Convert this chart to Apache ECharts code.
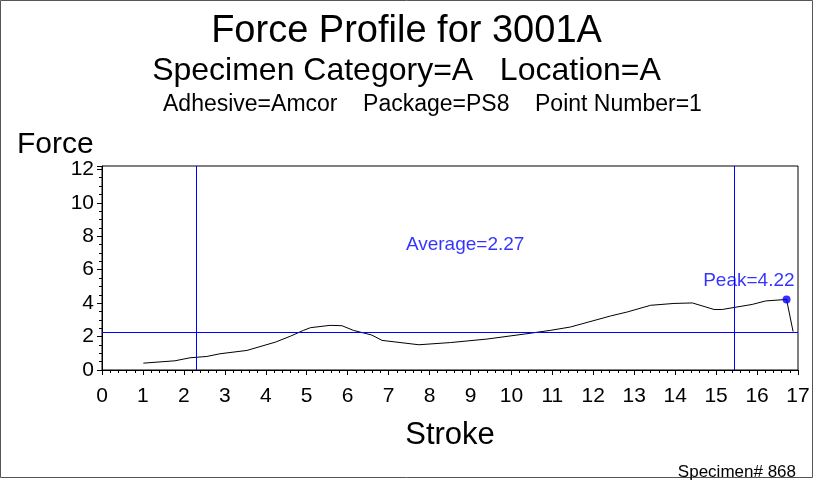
<!DOCTYPE html>
<html>
<head>
<meta charset="utf-8">
<script src="https://cdn.jsdelivr.net/npm/echarts@6/dist/echarts.min.js"></script>
<style>
  html, body { margin: 0; padding: 0; background: #fff; }
  #chart { width: 813px; height: 481px; }
</style>
</head>
<body>
<div id="chart"></div>
<script>
// Force profile data
const strokeX = [1.01, 1.78, 2.15, 2.56, 2.88, 3.54, 4.24, 4.61, 4.92, 5.09, 5.57, 5.86, 6.14, 6.59, 6.84,
  7.74, 8.51, 9.4, 10.38, 10.95, 11.44, 12.42, 12.83, 13.40, 13.97, 14.42, 14.95, 15.15, 15.88, 16.21, 16.72, 16.88];
const forceY = [0.41, 0.55, 0.73, 0.81, 0.97, 1.17, 1.67, 2.03, 2.37, 2.53, 2.67, 2.65, 2.37, 2.09, 1.77,
  1.51, 1.64, 1.85, 2.17, 2.37, 2.57, 3.23, 3.47, 3.87, 3.98, 4.01, 3.62, 3.62, 3.92, 4.13, 4.22, 2.3];

const averageForce = 2.27;
const peakPoint = [16.72, 4.22];
const boundaryStrokes = [2.3, 15.45];

// annotation anchors, in data units
const averageLabelAt = [8.87, 7.5];
const peakLabelAt = [15.8, 5.35];

const xTicks = { min: 0, max: 17, interval: 1 };
const yTicks = { min: 0, max: 12.2, interval: 2 };

const blue = '#0000ff';
const font = 'Liberation Sans, Arial, sans-serif';

const chart = echarts.init(document.getElementById('chart'));

chart.setOption({
  animation: false,
  backgroundColor: '#fff',
  title: [
    { text: 'Force Profile for 3001A', left: 'center', top: 8,
      textStyle: { fontFamily: font, fontSize: 38, fontWeight: 'normal', color: '#000' } },
    { text: 'Specimen Category=A   Location=A', left: 'center', top: 50,
      textStyle: { fontFamily: font, fontSize: 32, fontWeight: 'normal', color: '#000' } },
    { text: 'Adhesive=Amcor    Package=PS8    Point Number=1', left: 158, top: 88,
      textStyle: { fontFamily: font, fontSize: 23, fontWeight: 'normal', color: '#000' } },
    { text: 'Force', left: 12, top: 125,
      textStyle: { fontFamily: font, fontSize: 30, fontWeight: 'normal', color: '#000' } },
    { text: 'Specimen# 868', right: 12, top: 459,
      textStyle: { fontFamily: font, fontSize: 17, fontWeight: 'normal', color: '#000' } }
  ],
  grid: { left: 102, right: 15, top: 166, bottom: 111, show: true, borderColor: '#000', borderWidth: 1 },
  xAxis: {
    type: 'value', min: xTicks.min, max: xTicks.max, interval: xTicks.interval,
    name: 'Stroke', nameLocation: 'middle', nameGap: 50,
    nameTextStyle: { fontFamily: font, fontSize: 31, color: '#000' },
    axisLine: { lineStyle: { color: '#000' } },
    axisTick: { show: true, length: 5, lineStyle: { color: '#000' } },
    minorTick: { show: true, splitNumber: 5, length: 3, lineStyle: { color: '#000' } },
    axisLabel: { fontFamily: font, fontSize: 21, color: '#000', margin: 16 },
    splitLine: { show: false }
  },
  yAxis: {
    type: 'value', min: yTicks.min, max: yTicks.max, interval: yTicks.interval,
    axisLine: { show: true, lineStyle: { color: '#000' } },
    axisTick: { show: true, length: 5, lineStyle: { color: '#000' } },
    minorTick: { show: true, splitNumber: 4, length: 3, lineStyle: { color: '#000' } },
    axisLabel: { fontFamily: font, fontSize: 21, color: '#000', margin: 8,
      formatter: v => (v > 12 ? '' : v) },
    splitLine: { show: false }
  },
  series: [
    {
      type: 'line',
      data: strokeX.map((x, i) => [x, forceY[i]]),
      showSymbol: false,
      lineStyle: { color: '#000', width: 1 },
      markLine: {
        silent: true,
        symbol: 'none',
        label: { show: false },
        lineStyle: { color: blue, width: 1, type: 'solid' },
        data: [{ yAxis: averageForce }].concat(boundaryStrokes.map(x => ({ xAxis: x })))
      },
      z: 3
    },
    {
      type: 'scatter',
      data: [peakPoint],
      symbolSize: 8,
      itemStyle: { color: blue },
      z: 4
    },
    {
      type: 'scatter',
      symbolSize: 0,
      data: [
        { value: averageLabelAt, name: 'Average=' + averageForce.toFixed(2) },
        { value: peakLabelAt, name: 'Peak=' + peakPoint[1].toFixed(2) }
      ],
      label: {
        show: true, position: 'inside', formatter: p => p.name,
        fontFamily: font, fontSize: 19, color: blue
      }
    }
  ],
  graphic: [
    { type: 'rect', shape: { x: 0.5, y: 0.5, width: 812, height: 477 },
      style: { fill: 'none', stroke: '#555', lineWidth: 1 }, silent: true }
  ]
});
</script>
</body>
</html>
